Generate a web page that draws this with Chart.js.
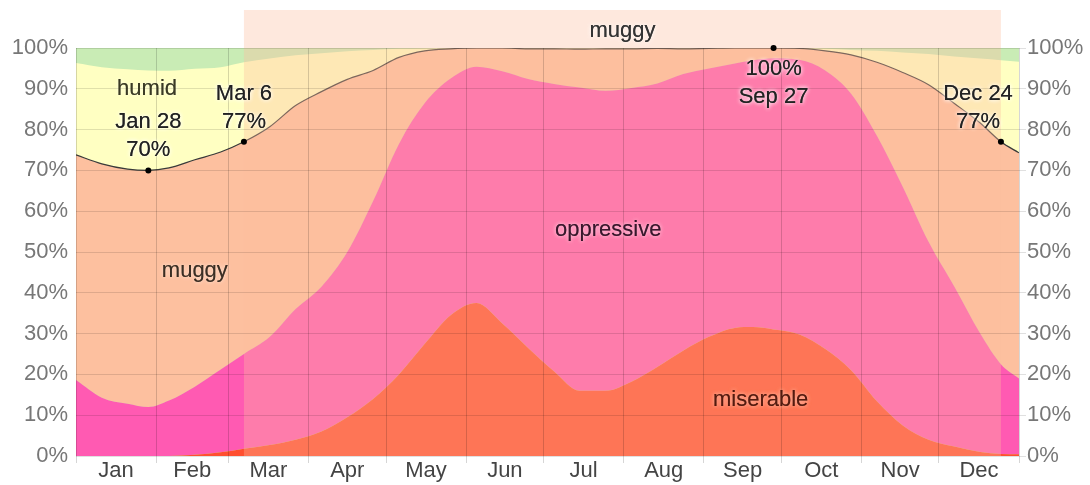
<!DOCTYPE html>
<html>
<head>
<meta charset="utf-8">
<script src="https://cdn.jsdelivr.net/npm/chart.js@4.4.0/dist/chart.umd.min.js"></script>
<style>
  html, body { margin: 0; padding: 0; background: #fff; }
</style>
</head>
<body>
<canvas id="Humedad" width="1090" height="485"></canvas>
<script>
// day of year (0 = Jan 1) where the values were read
var dias = [0, 10, 20, 28, 36, 46, 56, 65, 75, 85, 95, 105, 115, 125, 135, 145, 155, 165, 175, 185,
  195, 205, 215, 225, 235, 245, 255, 262, 270, 280, 290, 300, 310, 320, 330, 340, 350, 358, 365];
// cumulative percentages, bottom band up
var miserable = [0, 0, 0, 0, 0, 0.3, 0.9, 1.8, 2.7, 4, 6, 9.5, 14, 20, 27.5, 34.5, 37.5, 32.5, 26.5, 20.8,
  16, 16, 18.2, 21.8, 25.8, 29.2, 31.4, 31.6, 31, 29.8, 26.2, 21, 13.4, 7.5, 4, 2.3, 1, 0.5, 0.4];
var oppressiveOrWorse = [18.6, 14.3, 12.8, 12, 13.6, 17, 21.2, 25, 29.2, 36, 41.5, 50, 62.5, 76.5, 86.5, 92.5, 95.4, 94.3, 92.4, 91.2,
  90.3, 89.5, 90.2, 91.3, 93.6, 95, 96.2, 97, 97.5, 97.1, 94.5, 88.8, 78.5, 66, 52.5, 41.5, 30, 22.5, 19];
var muggyOrWorse = [73.8, 71.6, 70.3, 70, 70.6, 72.6, 74.5, 77, 80.7, 85.9, 89.3, 92.3, 94.5, 97.7, 99.3, 99.8, 100, 100, 99.8, 99.8,
  99.7, 99.8, 99.8, 99.9, 99.8, 99.9, 100, 100, 100, 99.9, 99.3, 98.3, 96.5, 94, 91, 86.4, 81.6, 77, 74.3];
var humidOrWorse = [96.3, 95.3, 94.8, 94.5, 94.4, 94.9, 95.3, 96.5, 97.4, 98.2, 98.7, 99.2, 99.5, 99.8, 99.9, 100, 100, 100, 100, 100,
  100, 100, 100, 100, 100, 100, 100, 100, 100, 100, 99.8, 99.5, 99.3, 98.9, 98.5, 97.9, 97.4, 97, 96.6];

var meses = ["Jan", "Feb", "Mar", "Apr", "May", "Jun", "Jul", "Aug", "Sep", "Oct", "Nov", "Dec"];
var inicioMes = [0, 31, 59, 90, 120, 151, 181, 212, 243, 273, 304, 334, 365];
var ticksY = [0, 10, 20, 30, 40, 50, 60, 70, 80, 90, 100];

// muggy season (Mar 6 - Dec 24)
var temporada = [65, 358];
// highlighted points on the muggy-or-worse line
var notaDias = [28, 65, 270, 358];
var notaValores = [70, 77, 100, 77];
var notaFechas = ["Jan 28", "Mar 6", "Sep 27", "Dec 24"];

var fuente = '"Liberation Sans", Arial, sans-serif';

function puntos(arr) {
  return dias.map(function (d, i) { return { x: d, y: arr[i] }; });
}

function texto(c, str, x, y, color, glow) {
  c.save();
  c.font = '22px ' + fuente;
  c.textAlign = 'center';
  c.textBaseline = 'middle';
  c.shadowColor = glow;
  c.shadowBlur = 4;
  c.fillStyle = color;
  c.fillText(str, x, y);
  c.fillText(str, x, y);
  c.restore();
}

var extras = {
  id: 'extras',
  beforeDatasetsDraw: function (chart) {
    // comfortable band = whatever is left up to 100%
    var a = chart.chartArea, c = chart.ctx;
    c.save();
    c.fillStyle = '#c9ecb5';
    c.fillRect(a.left, a.top, a.right - a.left, a.bottom - a.top);
    c.restore();
  },
  afterDatasetsDraw: function (chart) {
    var a = chart.chartArea, c = chart.ctx, sx = chart.scales.x;
    var x0 = sx.getPixelForValue(temporada[0]), x1 = sx.getPixelForValue(temporada[1]);
    c.save();
    c.fillStyle = 'rgba(252,190,158,0.35)';
    c.fillRect(x0, 10, x1 - x0, a.bottom - 10);
    c.restore();
  },
  afterDraw: function (chart) {
    var a = chart.chartArea, c = chart.ctx, sx = chart.scales.x, sy = chart.scales.y;
    var x0 = sx.getPixelForValue(temporada[0]), x1 = sx.getPixelForValue(temporada[1]);
    texto(c, "muggy", (x0 + x1) / 2, 31, '#333', 'rgba(255,255,255,0.6)');

    // band names
    texto(c, "humid", sx.getPixelForValue(27.5), sy.getPixelForValue(90), 'rgba(40,40,20,0.75)', 'rgba(255,255,255,0.5)');
    texto(c, "muggy", sx.getPixelForValue(46), sy.getPixelForValue(45.3), 'rgba(40,30,20,0.75)', 'rgba(255,255,255,0.5)');
    texto(c, "oppressive", sx.getPixelForValue(206), sy.getPixelForValue(55.4), 'rgba(40,10,30,0.8)', 'rgba(255,220,235,0.8)');
    texto(c, "miserable", sx.getPixelForValue(265), sy.getPixelForValue(13.7), 'rgba(70,15,5,0.8)', 'rgba(255,200,180,0.8)');

    // highlighted points
    for (var i = 0; i < notaDias.length; i++) {
      var px = sx.getPixelForValue(notaDias[i]);
      var py = sy.getPixelForValue(notaValores[i]);
      c.save();
      c.fillStyle = '#000';
      c.beginPath();
      c.arc(px, py, 3, 0, Math.PI * 2);
      c.fill();
      c.restore();
      var tx = Math.min(px, a.right - 41);
      var glow = 'rgba(255,255,255,0.85)';
      if (notaValores[i] >= 99) {
        texto(c, notaValores[i] + "%", tx, py + 21, '#222', glow);
        texto(c, notaFechas[i], tx, py + 49, '#222', glow);
      } else {
        texto(c, notaFechas[i], tx, py - 48, '#222', glow);
        texto(c, notaValores[i] + "%", tx, py - 20, '#222', glow);
      }
    }
  }
};

var ctx = document.getElementById('Humedad').getContext('2d');
var grafHumedad = new Chart(ctx, {
  type: 'line',
  data: {
    datasets: [{
      label: 'miserable',
      data: puntos(miserable),
      backgroundColor: '#ff4f30',
      fill: 'origin'
    }, {
      label: 'oppressive',
      data: puntos(oppressiveOrWorse),
      backgroundColor: '#ff5ab2',
      fill: '-1'
    }, {
      label: 'muggy',
      data: puntos(muggyOrWorse),
      backgroundColor: '#fdc09f',
      borderColor: '#3a3a3a',
      borderWidth: 1.2,
      fill: '-1'
    }, {
      label: 'humid',
      data: puntos(humidOrWorse),
      backgroundColor: '#ffffc2',
      fill: '-1'
    }]
  },
  options: {
    responsive: false,
    animation: false,
    devicePixelRatio: 1,
    layout: { padding: { top: 48, left: 0, right: 0, bottom: 0 } },
    elements: {
      point: { radius: 0 },
      line: { borderWidth: 0, cubicInterpolationMode: 'monotone' }
    },
    plugins: {
      legend: { display: false },
      tooltip: { enabled: false }
    },
    scales: {
      x: {
        type: 'linear', min: 0, max: 365,
        afterBuildTicks: function (s) { s.ticks = inicioMes.map(function (v) { return { value: v }; }); },
        ticks: { display: false },
        grid: { color: 'rgba(0,0,0,0.16)', tickLength: 7, z: 1 },
        border: { display: false },
        afterFit: function (s) { s.height = 0; }
      },
      xm: {
        type: 'linear', position: 'bottom', min: 0, max: 365,
        afterBuildTicks: function (s) {
          s.ticks = meses.map(function (m, i) { return { value: (inicioMes[i] + inicioMes[i + 1]) / 2 }; });
        },
        ticks: {
          autoSkip: false, maxRotation: 0, padding: -6,
          color: '#444', font: { size: 22, family: fuente },
          callback: function (v, i) { return meses[i]; }
        },
        grid: { display: false },
        border: { display: false },
        afterFit: function (s) { s.height = 29; }
      },
      y: {
        min: 0, max: 100,
        afterBuildTicks: function (s) { s.ticks = ticksY.map(function (v) { return { value: v }; }); },
        ticks: { color: '#777', font: { size: 22, family: fuente }, padding: 8, callback: function (v) { return v + '%'; } },
        grid: { color: 'rgba(0,0,0,0.12)', drawTicks: false, z: 1 },
        border: { display: false },
        afterFit: function (s) { s.width = 76; }
      },
      y2: {
        position: 'right', min: 0, max: 100,
        afterBuildTicks: function (s) { s.ticks = ticksY.map(function (v) { return { value: v }; }); },
        ticks: { color: '#777', font: { size: 22, family: fuente }, padding: 1, callback: function (v) { return v + '%'; } },
        grid: { drawOnChartArea: false, color: 'rgba(0,0,0,0.12)', tickLength: 7 },
        border: { display: false },
        afterFit: function (s) { s.width = 71; }
      }
    }
  },
  plugins: [extras]
});
</script>
</body>
</html>
